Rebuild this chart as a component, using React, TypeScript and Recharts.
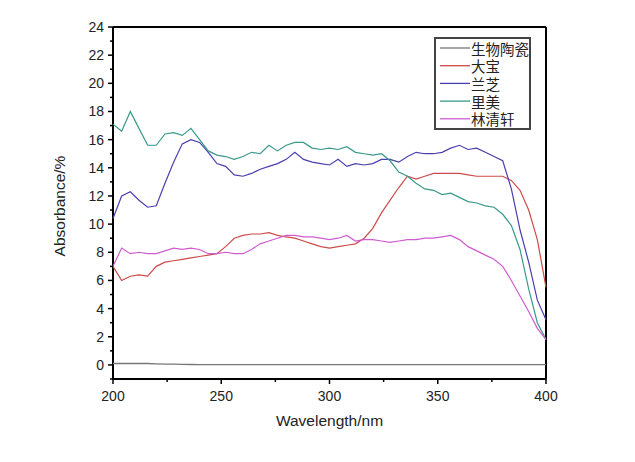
import React from 'react';
import { LineChart, Line, XAxis, YAxis, Legend, ReferenceLine } from 'recharts';

const wavelengths = [
  200, 204, 208, 212, 216, 220, 224, 228, 232, 236, 240, 244, 248, 252, 256, 260, 264,
  268, 272, 276, 280, 284, 288, 292, 296, 300, 304, 308, 312, 316, 320, 324, 328, 332,
  336, 340, 344, 348, 352, 356, 360, 364, 368, 372, 376, 380, 384, 388, 392, 396, 400,
];

// 生物陶瓷
const bioCeramic = [
  0.1, 0.1, 0.1, 0.1, 0.1, 0.08, 0.06, 0.05, 0.04, 0.03, 0.02, 0.02, 0.02, 0.02, 0.02,
  0.02, 0.02, 0.02, 0.02, 0.02, 0.02, 0.02, 0.02, 0.02, 0.02, 0.02, 0.02, 0.02, 0.02,
  0.02, 0.02, 0.02, 0.02, 0.02, 0.02, 0.02, 0.02, 0.02, 0.02, 0.02, 0.02, 0.02, 0.02,
  0.02, 0.02, 0.02, 0.02, 0.02, 0.02, 0.02, 0.02,
];

// 大宝
const dabao = [
  7.0, 6.0, 6.3, 6.4, 6.3, 7.0, 7.3, 7.4, 7.5, 7.6, 7.7, 7.8, 7.9, 8.4, 9.0, 9.2, 9.3,
  9.3, 9.4, 9.2, 9.1, 9.0, 8.8, 8.6, 8.4, 8.3, 8.4, 8.5, 8.6, 9.0, 9.7, 10.8, 11.7, 12.6,
  13.4, 13.2, 13.4, 13.6, 13.6, 13.6, 13.6, 13.5, 13.4, 13.4, 13.4, 13.4, 13.1, 12.4,
  11.0, 8.9, 5.5,
];

// 兰芝
const laneige = [
  10.4, 12.0, 12.3, 11.7, 11.2, 11.3, 12.9, 14.4, 15.7, 16.0, 15.8, 15.1, 14.3, 14.1,
  13.5, 13.4, 13.6, 13.9, 14.1, 14.3, 14.6, 15.1, 14.6, 14.4, 14.3, 14.2, 14.6, 14.1,
  14.3, 14.2, 14.3, 14.6, 14.6, 14.4, 14.8, 15.1, 15.0, 15.0, 15.1, 15.4, 15.6, 15.3,
  15.4, 15.1, 14.8, 14.5, 12.5, 9.6, 7.3, 4.6, 3.2,
];

// 里美
const rimei = [
  17.1, 16.6, 18.0, 16.8, 15.6, 15.6, 16.4, 16.5, 16.3, 16.8, 16.0, 15.2, 14.9, 14.8,
  14.6, 14.8, 15.1, 15.0, 15.6, 15.2, 15.6, 15.8, 15.8, 15.4, 15.3, 15.4, 15.3, 15.5,
  15.1, 15.0, 14.9, 15.0, 14.5, 13.7, 13.4, 12.9, 12.5, 12.4, 12.1, 12.2, 11.9, 11.6,
  11.5, 11.3, 11.2, 10.7, 9.9, 8.2, 5.4, 3.0, 1.8,
];

// 林清轩
const linqingxuan = [
  7.0, 8.3, 7.9, 8.0, 7.9, 7.9, 8.1, 8.3, 8.2, 8.3, 8.2, 7.9, 7.9, 8.0, 7.9, 7.9, 8.2,
  8.6, 8.8, 9.0, 9.2, 9.2, 9.1, 9.1, 9.0, 8.9, 9.0, 9.2, 8.8, 8.9, 8.9, 8.8, 8.7, 8.8,
  8.9, 8.9, 9.0, 9.0, 9.1, 9.2, 8.9, 8.4, 8.1, 7.8, 7.5, 7.0, 6.0, 4.9, 3.8, 2.6, 1.8,
];

const seriesKeys = ['bio', 'dabao', 'laneige', 'rimei', 'lqx'];
const seriesNames = ['生物陶瓷', '大宝', '兰芝', '里美', '林清轩'];
const seriesColors = ['#777777', '#cc4b4b', '#4a3fae', '#3a998a', '#cf5ccf'];

const bottomTicks = [200, 225, 250, 275, 300, 325, 350, 375, 400];
const topTicks = [200, 220, 240, 260, 280, 300, 320, 340, 360, 380, 400];
const leftTicks = [-1, 0, 1, 2, 3, 4, 5, 6, 7, 8, 9, 10, 11, 12, 13, 14, 15, 16, 17, 18, 19, 20, 21, 22, 23, 24];
const rightTicks = [-1, 1.5, 4, 6.5, 9, 11.5, 14, 16.5, 19, 21.5, 24];

const data = wavelengths.map((w, i) => ({
  w,
  bio: bioCeramic[i],
  dabao: dabao[i],
  laneige: laneige[i],
  rimei: rimei[i],
  lqx: linqingxuan[i],
}));

const tickFont = '"Liberation Sans", Arial, sans-serif';

const BottomTick = (props: any) => {
  const { x, y, payload } = props;
  const major = payload.value % 50 === 0;
  return (
    <g>
      <line x1={x} y1={y} x2={x} y2={y + (major ? 5 : 3)} stroke="#000" strokeWidth={1.5} />
      {major && (
        <text x={x} y={y + 22} textAnchor="middle" fontSize={14} fontFamily={tickFont} fill="#222">
          {payload.value}
        </text>
      )}
    </g>
  );
};

const TopTick = (props: any) => {
  const { x, y } = props;
  return <line x1={x} y1={y} x2={x} y2={y + 4} stroke="#000" strokeWidth={1.5} />;
};

const LeftTick = (props: any) => {
  const { x, y, payload } = props;
  const major = payload.value >= 0 && payload.value % 2 === 0;
  return (
    <g>
      <line x1={x} y1={y} x2={x - (major ? 5 : 3)} y2={y} stroke="#000" strokeWidth={1.5} />
      {major && (
        <text x={x - 9} y={y + 5} textAnchor="end" fontSize={14} fontFamily={tickFont} fill="#222">
          {payload.value}
        </text>
      )}
    </g>
  );
};

const RightTick = (props: any) => {
  const { x, y } = props;
  return <line x1={x} y1={y} x2={x - 4} y2={y} stroke="#000" strokeWidth={1.5} />;
};

const rowH = 17.7;

const LegendBox = () => (
  <div style={{ width: 97, height: 93, boxSizing: 'border-box', border: '2px solid #444', background: '#fff' }}>
    <svg width={93} height={89} style={{ display: 'block' }}>
      {seriesNames.map((name, i) => {
        const cy = 9 + i * rowH;
        return (
          <g key={name}>
            <line x1={4} y1={cy} x2={34} y2={cy} stroke={seriesColors[i]} strokeWidth={1.3} />
            <text
              x={35}
              y={cy}
              dominantBaseline="central"
              fontSize={14.5}
              fontFamily='"Noto Sans CJK SC", sans-serif'
              fill="#222"
            >
              {name}
            </text>
          </g>
        );
      })}
    </svg>
  </div>
);

const frame = { stroke: '#000', strokeWidth: 2, ifOverflow: 'visible' as const };

export default function App() {
  return (
    <div style={{ position: 'absolute', left: 0, top: 0, width: 635, height: 462, background: '#fff' }}>
      <LineChart width={635} height={462} data={data} margin={{ top: 27, right: 89, bottom: 33, left: 0 }}>
        <XAxis
          xAxisId="b"
          dataKey="w"
          type="number"
          domain={[200, 400]}
          ticks={bottomTicks}
          interval={0}
          height={50}
          tickSize={0}
          tickMargin={0}
          tickLine={false}
          axisLine={false}
          tick={<BottomTick />}
          label={(p: any) => {
            const vb = p.viewBox;
            return (
              <text
                x={vb.x + vb.width / 2}
                y={vb.y + 47}
                textAnchor="middle"
                fontSize={15.5}
                fontFamily={tickFont}
                fill="#222"
              >
                Wavelength/nm
              </text>
            );
          }}
        />
        <XAxis
          xAxisId="t"
          dataKey="w"
          type="number"
          orientation="top"
          domain={[200, 400]}
          ticks={topTicks}
          interval={0}
          height={0}
          tickSize={0}
          tickMargin={0}
          tickLine={false}
          axisLine={false}
          tick={<TopTick />}
        />
        <YAxis
          yAxisId="l"
          type="number"
          domain={[-1, 24]}
          ticks={leftTicks}
          interval={0}
          width={113}
          tickSize={0}
          tickMargin={0}
          tickLine={false}
          axisLine={false}
          tick={<LeftTick />}
          label={(p: any) => {
            const vb = p.viewBox;
            const cx = vb.x + 59;
            const cy = vb.y + vb.height / 2 + 3;
            return (
              <text
                x={cx}
                y={cy}
                transform={`rotate(-90, ${cx}, ${cy})`}
                textAnchor="middle"
                dominantBaseline="central"
                fontSize={15.5}
                fontFamily={tickFont}
                fill="#222"
              >
                Absorbance/%
              </text>
            );
          }}
        />
        <YAxis
          yAxisId="r"
          type="number"
          orientation="right"
          domain={[-1, 24]}
          ticks={rightTicks}
          interval={0}
          width={0}
          tickSize={0}
          tickMargin={0}
          tickLine={false}
          axisLine={false}
          tick={<RightTick />}
        />
        {/* plot frame */}
        <ReferenceLine xAxisId="b" yAxisId="l" x={200} {...frame} />
        <ReferenceLine xAxisId="b" yAxisId="l" x={400} {...frame} />
        <ReferenceLine xAxisId="b" yAxisId="l" y={-1} {...frame} />
        <ReferenceLine xAxisId="b" yAxisId="l" y={24} {...frame} />
        <Legend
          layout="vertical"
          align="center"
          verticalAlign="middle"
          content={<LegendBox />}
          wrapperStyle={{ left: 434, top: 37, width: 97 }}
        />
        {seriesKeys.map((k, i) => (
          <Line
            key={k}
            xAxisId="b"
            yAxisId="l"
            type="linear"
            dataKey={k}
            name={seriesNames[i]}
            stroke={seriesColors[i]}
            strokeWidth={i === 0 ? 1.3 : 1.2}
            dot={false}
            isAnimationActive={false}
          />
        ))}
      </LineChart>
    </div>
  );
}
